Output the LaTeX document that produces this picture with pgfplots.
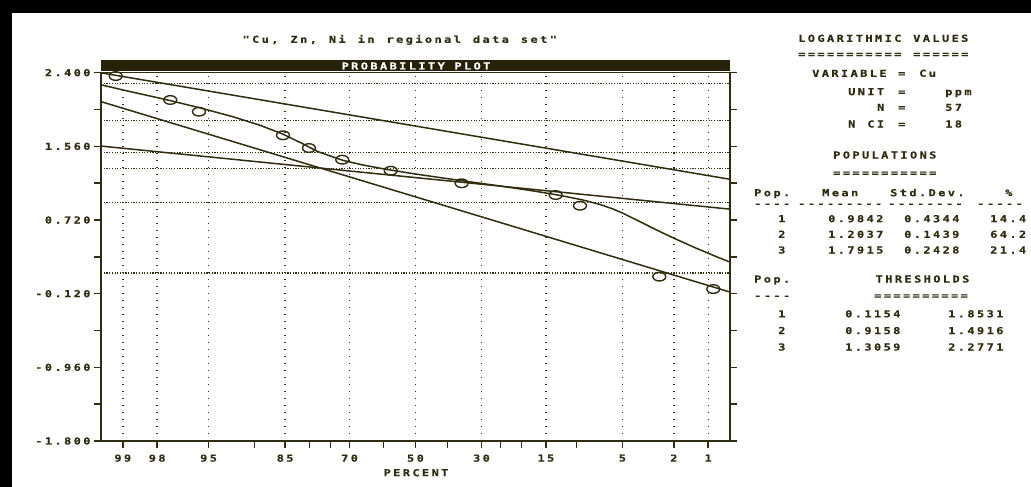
\documentclass[border=0pt]{standalone}
\usepackage{fontspec}
\usepackage{pgfplots}
\pgfplotsset{compat=1.18}
\newfontfamily\pixf{DejaVu Sans Mono}[FakeStretch=1.25, LetterSpace=24.75, Ligatures=TeXOff, FakeBold=0.3]
\newcommand\pix{\pixf\bfseries\fontsize{9.6bp}{11bp}\selectfont}
\definecolor{ol}{RGB}{48,44,16}
\definecolor{barc}{RGB}{38,34,8}
% text node: left x (px), vertical centre y (px, from top), text
\newcommand\T[3]{\node[anchor=base west,inner sep=0pt,text=ol,font=\pix] at ({#1*1bp},{(483.5-#2)*1bp}) {#3};}
\begin{document}
\begin{tikzpicture}
\useasboundingbox (0,0) rectangle (1031bp,487bp);
\fill[white] (0,0) rectangle (1031bp,487bp);
\fill[black] (0,{(487-13.5)*1bp}) rectangle (1031bp,487bp);
\fill[black] (0,0) rectangle (12bp,487bp);
\begin{axis}[
  at={(101bp,46bp)}, anchor=south west,
  scale only axis, width=629bp, height=368.3bp,
  xmin=-2.5, xmax=2.5, ymin=-1.8, ymax=2.4,
  axis line style={draw=ol, line width=1.6bp},
  tick style={draw=ol, line width=1.5bp},
  tick align=outside,
  major tick length=7bp, minor tick length=7bp,
  xtick pos=left, ytick pos=both, yticklabel pos=left,
  xtick={-2.3263,-2.0537,-1.6449,-1.0364,-0.5244,0,0.5244,1.0364,1.6449,2.0537,2.3263},
  xticklabels={99,98,95,85,70,50,30,15,5,2,1},
  minor xtick={-1.2816,-0.8416,-0.6745,-0.2533,0.2533,0.6745,0.8416,1.2816},
  ytick={-1.8,-0.96,-0.12,0.72,1.56,2.4},
  yticklabels={-1.800,-0.960,-0.120,0.720,1.560,2.400},
  minor ytick={-1.38,-0.54,0.3,1.14,1.98},
  xmajorgrids,
  major grid style={draw=ol, line width=1.3bp, dash pattern=on 1.3bp off 5.7bp},
  ticklabel style={font=\pix, text=ol},
  xticklabel style={yshift=-3bp},
]
% threshold lines
\pgfplotsset{thr/.style={ol, line width=1.2bp, dash pattern=on 1.2bp off 1.5bp, forget plot}}
\addplot[thr] coordinates {(-2.5,2.2771) (2.5,2.2771)};
\addplot[thr] coordinates {(-2.5,1.8531) (2.5,1.8531)};
\addplot[thr] coordinates {(-2.5,1.4916) (2.5,1.4916)};
\addplot[thr] coordinates {(-2.5,1.3059) (2.5,1.3059)};
\addplot[thr] coordinates {(-2.5,0.9158) (2.5,0.9158)};
\addplot[thr] coordinates {(-2.5,0.1154) (2.5,0.1154)};
% population lines
\addplot[ol, line width=1.5bp, no marks] coordinates {(-2.5,2.3985) (2.5,1.1845)};
\addplot[ol, line width=1.5bp, no marks] coordinates {(-2.5,1.5635) (2.5,0.8439)};
\addplot[ol, line width=1.5bp, no marks] coordinates {(-2.5,2.0702) (2.5,-0.1018)};
% mixture curve
\addplot[ol, line width=1.5bp, no marks] coordinates {
(-2.5,2.262) (-2.316,2.2) (-2.004,2.1) (-1.715,2.0) (-1.457,1.9) (-1.235,1.8)
(-1.055,1.7) (-0.911,1.6) (-0.776,1.5) (-0.576,1.4) (-0.427,1.35) (-0.241,1.3)
(-0.025,1.25) (0.214,1.2) (0.462,1.15) (0.710,1.1) (0.944,1.05) (1.152,1.0)
(1.326,0.95) (1.460,0.9) (1.563,0.85) (1.645,0.8) (1.786,0.7) (1.925,0.6)
(2.073,0.5) (2.229,0.4) (2.395,0.3) (2.5,0.24)};
% data points
\addplot[only marks, mark=o, mark size=4.3bp, mark options={draw=ol, line width=1.4bp, xscale=1.5}] coordinates {
(-2.383,2.362) (-1.949,2.089) (-1.721,1.955) (-1.053,1.686) (-0.847,1.541) (-0.582,1.408)
(-0.197,1.282) (0.367,1.139) (1.114,1.005) (1.308,0.883) (1.938,0.074) (2.367,-0.067)};
\end{axis}
% header bar
\fill[barc] (101bp,{(487-71.2)*1bp}) rectangle (730bp,{(487-60.5)*1bp});
\node[text=white,font=\pix,anchor=base,inner sep=0pt] at (416bp,{(483.5-66)*1bp}) {PROBABILITY PLOT};
\node[text=ol,font=\pix,anchor=base,inner sep=0pt] at (416bp,{(483.5-472.7)*1bp}) {PERCENT};
% title
\T{242.3}{39.3}{"Cu,}
\T{290.3}{39.3}{Zn,}
\T{328.7}{39.3}{Ni}
\T{357.5}{39.3}{in}
\T{386.3}{39.3}{regional}
\T{472.7}{39.3}{data}
\T{520.7}{39.3}{set"}
% right panel
\T{798}{38.3}{LOGARITHMIC}\T{913}{38.3}{VALUES}
\T{798}{54}{===========}\T{913}{54}{======}
\T{812}{73.3}{VARIABLE}\T{898}{73.3}{=}\T{919}{73.3}{Cu}
\T{848}{91.7}{UNIT}\T{898}{91.7}{=}\T{945}{91.7}{ppm}
\T{877}{107.3}{N}\T{898}{107.3}{=}\T{945}{107.3}{57}
\T{848}{124}{N}\T{867.1}{124}{CI}\T{898}{124}{=}\T{945}{124}{18}
\T{833}{155}{POPULATIONS}
\T{833}{172.7}{===========}
\T{754}{192.7}{Pop.}\T{822}{192.7}{Mean}\T{890}{192.7}{Std.Dev.}\T{1005}{192.7}{\%}
\T{754}{203.5}{----}\T{798}{203.5}{---------}\T{888}{203.5}{--------}\T{977}{203.5}{-----}
\T{778}{218.7}{1}\T{828}{218.7}{0.9842}\T{904}{218.7}{0.4344}\T{990}{218.7}{14.4}
\T{778}{234.3}{2}\T{828}{234.3}{1.2037}\T{904}{234.3}{0.1439}\T{990}{234.3}{64.2}
\T{778}{250}{3}\T{828}{250}{1.7915}\T{904}{250}{0.2428}\T{990}{250}{21.4}
\T{754}{279}{Pop.}\T{875.5}{279}{THRESHOLDS}
\T{754}{295.5}{----}\T{874}{295.5}{==========}
\T{778}{313.8}{1}\T{845}{313.8}{0.1154}\T{948}{313.8}{1.8531}
\T{778}{330.6}{2}\T{845}{330.6}{0.9158}\T{948}{330.6}{1.4916}
\T{778}{347}{3}\T{845}{347}{1.3059}\T{948}{347}{2.2771}
\end{tikzpicture}
\end{document}
